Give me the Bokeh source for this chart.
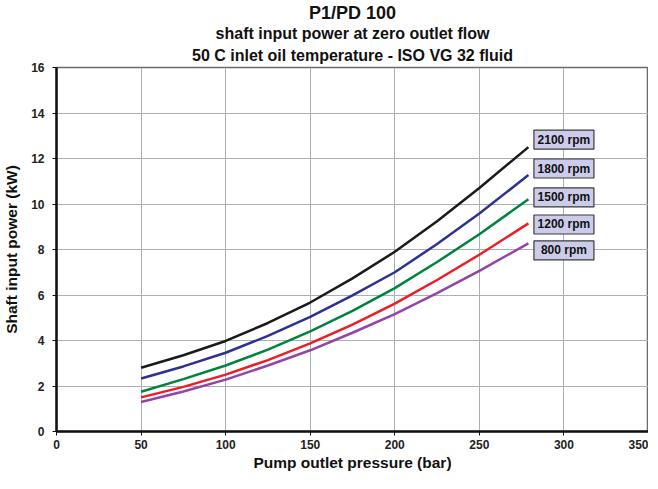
from bokeh.plotting import figure
from bokeh.models import Title, Range1d, FixedTicker, ColumnDataSource
from bokeh.core.properties import value
from bokeh.embed import file_html
from bokeh.resources import INLINE

pressure = [50, 75, 100, 125, 150, 175, 200, 225, 250, 279]
rpm2100 = [2.8, 3.35, 3.98, 4.77, 5.67, 6.73, 7.9, 9.24, 10.7, 12.5]
rpm1800 = [2.33, 2.86, 3.46, 4.2, 5.04, 5.98, 7.0, 8.24, 9.58, 11.27]
rpm1500 = [1.75, 2.3, 2.9, 3.6, 4.4, 5.3, 6.3, 7.45, 8.67, 10.21]
rpm1200 = [1.5, 1.96, 2.5, 3.14, 3.87, 4.7, 5.62, 6.66, 7.77, 9.15]
rpm800 = [1.3, 1.76, 2.28, 2.9, 3.57, 4.34, 5.16, 6.08, 7.06, 8.27]

series_names = ["2100 rpm", "1800 rpm", "1500 rpm", "1200 rpm", "800 rpm"]
series_values = [rpm2100, rpm1800, rpm1500, rpm1200, rpm800]
series_colors = ["#1a1a1a", "#2e3192", "#00843d", "#ee1c25", "#9444a8"]
label_x = [300, 300, 300, 300, 300]
label_y = [12.83, 11.56, 10.29, 9.1, 7.96]

x_ticks = [0, 50, 100, 150, 200, 250, 300, 350]
y_ticks = [0, 2, 4, 6, 8, 10, 12, 14, 16]

FONT = "Liberation Sans"

p = figure(width=648, height=473, output_backend="svg", toolbar_location=None,
           x_range=Range1d(0, 350), y_range=Range1d(0, 16),
           min_border_left=0, min_border_right=0, min_border_top=0, min_border_bottom=0)

for text, size, sto in [("50 C inlet oil temperature - ISO VG 32 fluid", "16px", 7),
                        ("shaft input power at zero outlet flow", "16px", 0),
                        ("P1/PD 100", "18px", 0)]:
    t = Title(text=text, align="center", text_font=FONT, text_font_size=size,
              text_font_style="bold", text_color="#111111", standoff=sto)
    p.add_layout(t, "above")

for name, vals, col in zip(series_names, series_values, series_colors):
    p.line(pressure, vals, line_color=col, line_width=2.5)

src = ColumnDataSource(dict(x=label_x, y=label_y, t=series_names))
p.rect(x="x", y="y", width=60, height=19, width_units="screen", height_units="screen",
       source=src, fill_color="#ccccea", line_color="#3a3a3a", line_width=1.2)
p.text(x="x", y="y", text="t", source=src, text_align="center", text_baseline="middle",
       text_font=value(FONT), text_font_size="12px", text_font_style="bold", text_color="#111111")

p.xaxis.ticker = FixedTicker(ticks=x_ticks)
p.yaxis.ticker = FixedTicker(ticks=y_ticks)
for ax in (p.xaxis[0], p.yaxis[0]):
    ax.axis_line_width = 2.5
    ax.axis_line_color = "#111111"
    ax.major_tick_out = 4
    ax.major_tick_in = 0
    ax.major_tick_line_color = "#111111"
    ax.minor_tick_line_color = None
    ax.major_label_text_font = FONT
    ax.major_label_text_font_size = "12px"
    ax.major_label_text_font_style = "bold"
    ax.major_label_text_color = "#222222"
    ax.axis_label_text_font = FONT
    ax.axis_label_text_font_size = "15.5px"
    ax.axis_label_text_font_style = "bold"
    ax.axis_label_text_color = "#111111"
p.xaxis.axis_label = "Pump outlet pressure (bar)"
p.yaxis.axis_label = "Shaft input power (kW)"
p.xaxis.major_label_standoff = 4
p.yaxis.major_label_standoff = 8
p.xaxis.axis_label_standoff = 2
p.yaxis.axis_label_standoff = 8

p.grid.grid_line_color = "#a9b0b8"
p.grid.grid_line_width = 1
p.outline_line_color = "#6a6a6a"
p.outline_line_width = 1.5
p.background_fill_color = "white"
p.border_fill_color = "white"

open("out.html", "w").write(file_html(p, INLINE))
